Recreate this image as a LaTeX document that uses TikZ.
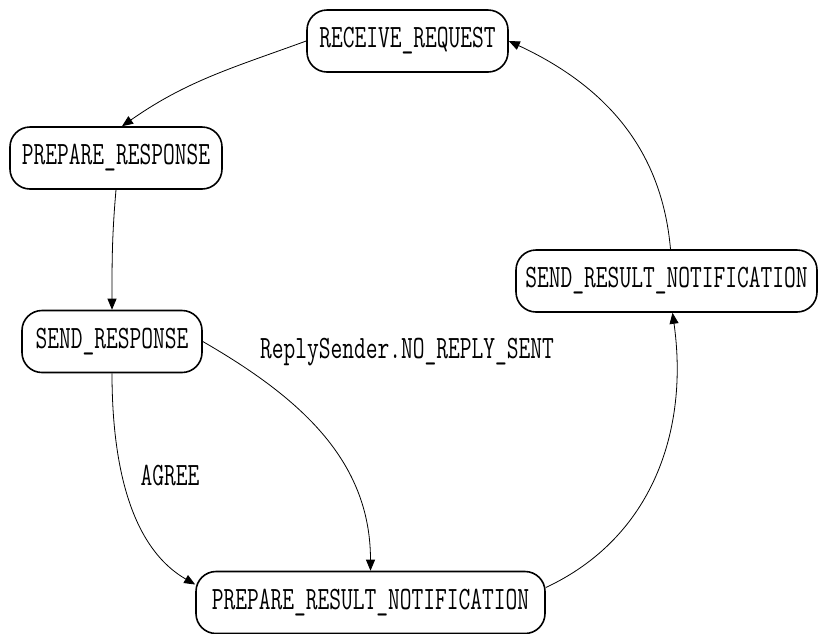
\documentclass[tikz,border=0pt]{standalone}
\usepackage{fontspec}
\usetikzlibrary{arrows.meta, positioning, calc}
\newfontfamily\statefont[FakeStretch=0.70]{Latin Modern Mono}

\begin{document}
\begin{tikzpicture}[
    x=1pt, y=1pt,
    state/.style={draw, line width=1.6pt, rounded corners=20pt, minimum height=62pt,
                  inner xsep=8pt, font=\statefont\fontsize{32.6}{36}\selectfont},
    trans/.style={-{Triangle[length=11pt,width=9pt]}, line width=0.8pt},
    lbl/.style={font=\statefont\fontsize{32.6}{36}\selectfont, inner sep=0pt}
]
\useasboundingbox (0,0) rectangle (818,-633);

% Estados
\node[state, minimum width=201pt] (receive) at (407.5,-41) {RECEIVE\_REQUEST};
\node[state, minimum width=212pt] (prepresp) at (116,-158) {PREPARE\_RESPONSE};
\node[state, minimum width=180pt] (sendresp) at (112,-341.5) {SEND\_RESPONSE};
\node[state, minimum width=301pt] (sendres) at (666.5,-281) {SEND\_RESULT\_NOTIFICATION};
\node[state, minimum width=349pt] (prepres) at (370.5,-602.5) {PREPARE\_RESULT\_NOTIFICATION};

% Transiciones
\draw[trans] (receive.west) to[out=200, in=35] ([xshift=6pt]prepresp.north);
\draw[trans] (prepresp.south) to[out=265, in=90] (sendresp.north);
\draw[trans] (sendresp.south) to[out=270, in=150, looseness=0.9] ([yshift=18pt]prepres.west);
\draw[trans] (sendresp.east) to[out=-30, in=90] (prepres.north);
\draw[trans] ([yshift=15pt]prepres.east) to[out=25, in=278] ([xshift=6pt]sendres.south);
\draw[trans] ([xshift=4pt]sendres.north) to[out=95, in=-25] (receive.east);

% Etiquetas
\node[lbl] (noreply) at (407,-352) {ReplySender.NO\_REPLY\_SENT};
\node[lbl] (agree) at (170,-475) {AGREE};

\end{tikzpicture}
\end{document}
